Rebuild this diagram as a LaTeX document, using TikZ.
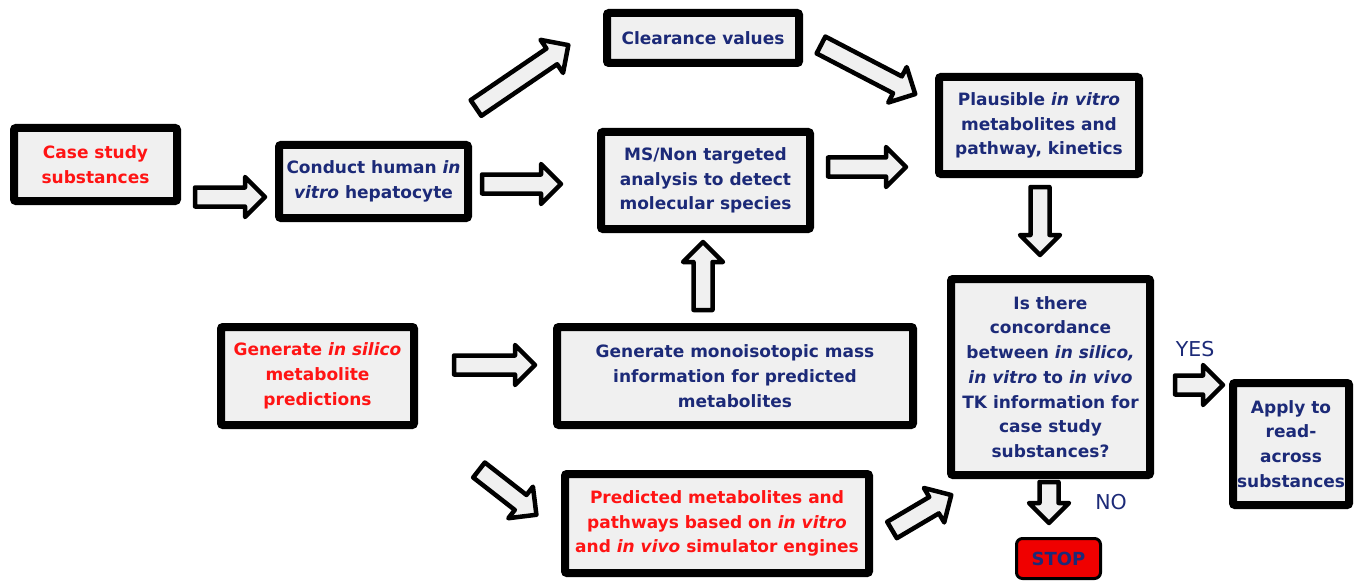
\documentclass[tikz,border=0pt]{standalone}
\usepackage{fontspec}
\setmainfont{DejaVu Sans}
\usetikzlibrary{calc}
\definecolor{navy}{RGB}{28,42,120}
\definecolor{txtred}{RGB}{255,20,20}
\definecolor{boxfill}{RGB}{240,240,240}
\definecolor{stopred}{RGB}{240,0,0}
\tikzset{
  box/.style={draw=black, line width=8pt, fill=boxfill, rounded corners=2pt, align=center,
    inner sep=0pt, font=\fontsize{17}{24.7}\selectfont\bfseries},
  bluetext/.style={text=navy},
  redtext/.style={text=txtred},
  lbl/.style={text=navy, font=\fontsize{20.5}{24}\selectfont},
  blk/.style={draw=black, fill=boxfill, line width=4.5pt, line join=round,
    to path={
      let \p1=(\tikztostart), \p2=(\tikztotarget),
          \n1={atan2(\y2-\y1,\x2-\x1)}, \n2={veclen(\x2-\x1,\y2-\y1)} in
      ([shift={(\p1)},rotate=\n1]0pt,-9.5pt)
      -- ([shift={(\p1)},rotate=\n1]\n2-22pt,-9.5pt)
      -- ([shift={(\p1)},rotate=\n1]\n2-22pt,-20pt)
      -- ([shift={(\p1)},rotate=\n1]\n2-2pt,0pt)
      -- ([shift={(\p1)},rotate=\n1]\n2-22pt,20pt)
      -- ([shift={(\p1)},rotate=\n1]\n2-22pt,9.5pt)
      -- ([shift={(\p1)},rotate=\n1]0pt,9.5pt) -- cycle}}
}
\begin{document}
\begin{tikzpicture}[x=1pt,y=-1pt]
\useasboundingbox (0,0) rectangle (1360,583);
% boxes
\node[box,redtext,minimum width=163pt,minimum height=73pt] (case) at (95.5,164.5) {Case study\\substances};
\node[box,bluetext,minimum width=189pt,minimum height=73pt] (conduct) at (373.5,181.5) {Conduct human \textit{in}\\\textit{vitro} hepatocyte};
\node[box,bluetext,minimum width=192pt,minimum height=50pt] (clear) at (703,38) {Clearance values};
\node[box,bluetext,minimum width=209pt,minimum height=97pt] (ms) at (705.5,180.5) {MS/Non targeted\\analysis to detect\\molecular species};
\node[box,bluetext,minimum width=200pt,minimum height=97pt] (plaus) at (1039,125.5) {Plausible \textit{in vitro}\\metabolites and\\pathway, kinetics};
\node[box,bluetext,minimum width=199pt,minimum height=196pt] (conc) at (1050.5,377) {Is there\\concordance\\between \textit{in silico,}\\\textit{in vitro} to \textit{in vivo}\\TK information for\\case study\\substances?};
\node[box,bluetext,minimum width=116pt,minimum height=122pt] (apply) at (1291,444) {Apply to\\read-\\across\\substances};
\node[box,redtext,minimum width=193pt,minimum height=98pt] (silico) at (317.5,376) {Generate \textit{in silico}\\metabolite\\predictions};
\node[box,bluetext,minimum width=356pt,minimum height=98pt] (mono) at (735,376) {Generate monoisotopic mass\\information for predicted\\metabolites};
\node[box,redtext,minimum width=304pt,minimum height=99pt] (pred) at (717,523.5) {Predicted metabolites and\\pathways based on \textit{in vitro}\\and \textit{in vivo} simulator engines};
\node[draw=black, line width=3pt, fill=stopred, rounded corners=6pt, minimum width=84pt, minimum height=40pt,
  inner sep=0pt, text=navy, font=\fontsize{18}{20}\selectfont\bfseries] (stop) at (1058.5,558.5) {STOP};
% block arrows
\draw[blk] ([shift={(14,32.5)}]case.east) to ([shift={(-8,15.5)}]conduct.west);
\draw[blk] ([shift={(10,2.5)}]conduct.east) to ([shift={(-34,3.5)}]ms.west);
\draw[blk] ([shift={(4,-33)}]conduct.north east) to ([shift={(-33,6)}]clear.west);
\draw[blk] ([shift={(18,7)}]clear.east) to ([shift={(-18,-30.5)}]plaus.west);
\draw[blk] ([shift={(14,-13.5)}]ms.east) to ([shift={(-27,41.5)}]plaus.west);
\draw[blk] ([shift={(1,9)}]plaus.south) to ([shift={(-10.5,-18)}]conc.north);
\draw[blk] ([shift={(-32,-13)}]mono.north) to ([shift={(-2.5,7)}]ms.south);
\draw[blk] ([shift={(36,-11)}]silico.east) to ([shift={(-16,-11)}]mono.west);
\draw[blk] ([shift={(61,41)}]silico.south east) to ([shift={(-23,-7.5)}]pred.west);
\draw[blk] ([shift={(19,6.5)}]pred.east) to ([shift={(6,15)}]conc.south west);
\draw[blk] ([shift={(21,8)}]conc.east) to ([shift={(-4,-59)}]apply.west);
\draw[blk] ([shift={(-1.5,3)}]conc.south) to ([shift={(-9.5,-12)}]stop.north);
% labels
\node[lbl] (yes) at (1195,349) {YES};
\node[lbl] (no) at (1111,502) {NO};
\end{tikzpicture}
\end{document}
